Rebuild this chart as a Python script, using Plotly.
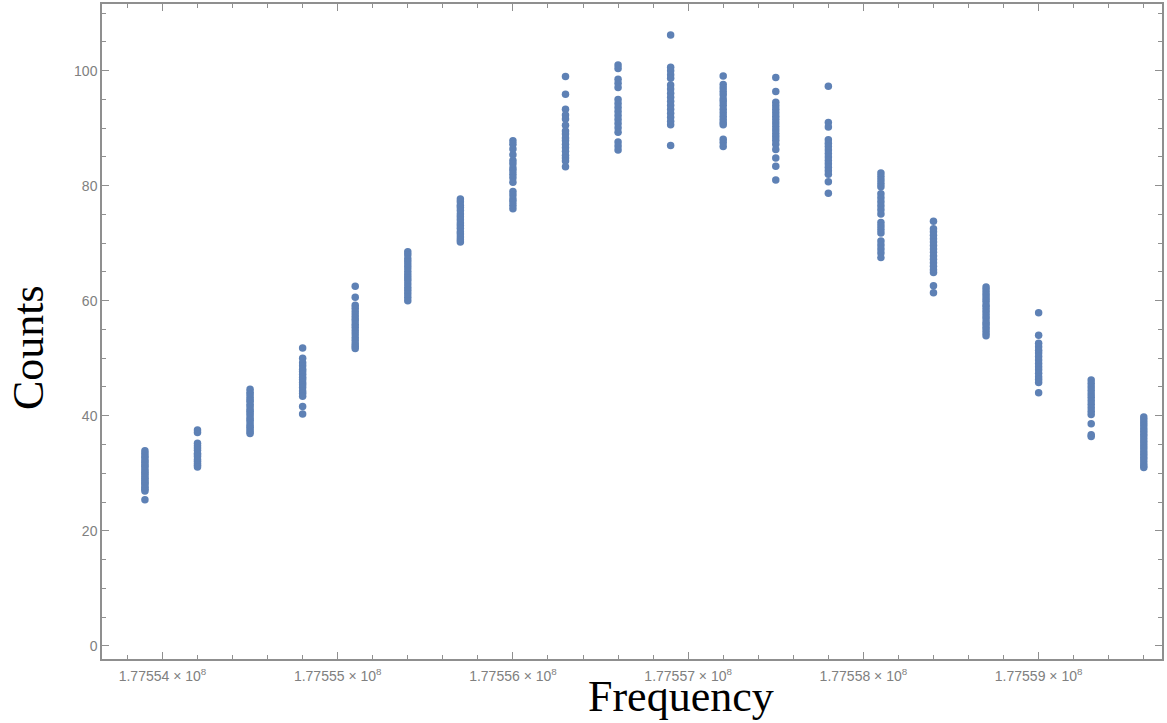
import plotly.graph_objects as go

# Measured counts at each probe frequency (Hz)
frequencies = [177553900, 177554200, 177554500, 177554800, 177555100,
               177555400, 177555700, 177556000, 177556300, 177556600,
               177556900, 177557200, 177557500, 177557800, 177558100,
               177558400, 177558700, 177559000, 177559300, 177559600]

counts_by_freq = [
    [33.9, 33.5, 33.0, 32.7, 32.2, 31.9, 31.5, 31.2, 30.8, 30.4, 30.1, 29.8,
     29.4, 29.1, 28.8, 28.4, 28.2, 27.8, 27.5, 27.2, 26.9, 25.4],
    [37.5, 37.1, 35.2, 34.8, 34.4, 34.0, 33.5, 33.2, 32.9, 32.4, 32.1, 31.7,
     31.4, 31.1],
    [44.6, 44.1, 43.7, 43.2, 42.8, 42.5, 42.0, 41.6, 41.1, 40.8, 40.4, 40.0,
     39.5, 39.2, 38.8, 38.3, 38.0, 37.6, 37.2, 36.9],
    [51.8, 50.0, 49.2, 48.7, 48.1, 47.7, 47.2, 46.7, 46.3, 45.8, 45.4, 44.9,
     44.3, 43.9, 43.4, 41.6, 40.3],
    [62.5, 60.6, 59.2, 58.7, 58.1, 57.5, 57.0, 56.5, 55.9, 55.4, 54.8, 54.2,
     53.6, 53.1, 52.5, 52.1, 51.7],
    [68.5, 68.0, 67.3, 66.8, 66.2, 65.7, 65.1, 64.5, 64.0, 63.5, 62.9, 62.3,
     61.8, 61.2, 60.6, 60.0],
    [77.7, 77.2, 76.6, 76.2, 75.7, 75.1, 74.6, 74.1, 73.5, 73.1, 72.6, 72.0,
     71.6, 71.1, 70.6, 70.2],
    [87.8, 87.2, 86.4, 85.4, 84.4, 83.8, 83.1, 82.6, 82.0, 81.4, 80.6, 79.0,
     78.4, 77.7, 77.2, 76.6, 76.0],
    [99.0, 95.9, 93.3, 92.3, 91.6, 90.5, 89.5, 89.0, 88.3, 87.8, 87.2, 86.6,
     86.0, 85.3, 84.8, 84.3, 83.3],
    [101.0, 100.4, 98.5, 97.8, 97.1, 95.0, 94.3, 93.6, 92.9, 92.2, 91.5, 90.8,
     90.1, 89.3, 87.6, 86.9, 86.2],
    [106.2, 100.6, 100.0, 99.3, 98.7, 97.5, 96.8, 96.1, 95.4, 94.7, 94.0, 93.3,
     92.6, 91.9, 91.2, 90.6, 87.0],
    [99.1, 97.6, 97.0, 96.4, 95.8, 95.1, 94.6, 94.0, 93.3, 92.7, 92.1, 91.5,
     91.0, 90.6, 88.1, 87.5, 86.8],
    [98.8, 96.4, 94.5, 93.9, 93.3, 92.7, 92.1, 91.5, 90.9, 90.3, 89.7, 89.1,
     88.5, 87.9, 87.2, 86.3, 84.8, 83.4, 81.0],
    [97.3, 91.0, 90.2, 88.0, 87.4, 86.8, 86.2, 85.6, 85.0, 84.4, 83.8, 83.2,
     82.6, 82.0, 80.7, 78.7],
    [82.2, 81.6, 81.0, 80.4, 79.8, 78.6, 77.9, 77.2, 76.5, 75.8, 75.1, 73.6,
     73.0, 72.4, 71.8, 70.4, 69.7, 69.0, 68.3, 67.5],
    [73.8, 72.5, 72.0, 71.4, 70.8, 70.2, 69.6, 69.0, 68.4, 67.8, 67.2, 66.6,
     66.0, 65.4, 64.9, 62.6, 61.4],
    [62.4, 61.9, 61.4, 60.9, 60.4, 59.9, 59.3, 58.9, 58.4, 57.9, 57.4, 56.9,
     56.3, 55.9, 55.4, 54.9, 54.4, 53.9],
    [57.9, 54.0, 52.6, 52.0, 51.4, 50.9, 50.3, 49.7, 49.1, 48.5, 48.0, 47.4,
     46.8, 46.3, 45.8, 44.0],
    [46.2, 45.6, 45.0, 44.4, 43.8, 43.2, 42.6, 42.0, 41.4, 40.8, 40.2, 38.6,
     36.7, 36.4],
    [39.8, 39.3, 38.8, 38.3, 37.8, 37.3, 36.8, 36.3, 35.8, 35.3, 34.8, 34.3,
     33.8, 33.3, 32.8, 32.3, 31.8, 31.3, 31.0],
]

x_tick_values = [177554000, 177555000, 177556000, 177557000, 177558000, 177559000]
x_tick_labels = ["1.77554 × 10<sup>8</sup>", "1.77555 × 10<sup>8</sup>",
                 "1.77556 × 10<sup>8</sup>", "1.77557 × 10<sup>8</sup>",
                 "1.77558 × 10<sup>8</sup>", "1.77559 × 10<sup>8</sup>"]

xs, ys = [], []
for f, vals in zip(frequencies, counts_by_freq):
    xs.extend([f] * len(vals))
    ys.extend(vals)

fig = go.Figure()
fig.add_trace(go.Scatter(
    x=xs, y=ys, mode="markers",
    marker=dict(size=7.5, color="#5E81B5", line=dict(width=0)),
    showlegend=False,
))

frame = "#8f8f8f"
x_tick_font = dict(family="Liberation Sans, Arial, sans-serif", size=14, color="#808080")
y_tick_font = dict(family="Liberation Sans, Arial, sans-serif", size=14, color="#808080")

fig.update_xaxes(
    range=[177553655, 177559704],
    tickmode="array", tickvals=x_tick_values, ticktext=x_tick_labels,
    ticks="inside", ticklen=7, tickwidth=1, tickcolor=frame,
    minor=dict(tickmode="linear", tick0=177554000, dtick=200,
               ticks="inside", ticklen=4, tickwidth=1, tickcolor=frame),
    showline=True, linecolor=frame, linewidth=1.5, mirror="ticks",
    showgrid=False, zeroline=False, tickfont=x_tick_font,
    ticklabelstandoff=3,
)
fig.update_yaxes(
    range=[-2.3, 111.6],
    tickmode="linear", tick0=0, dtick=20,
    ticks="inside", ticklen=7, tickwidth=1, tickcolor=frame,
    minor=dict(tickmode="linear", tick0=0, dtick=5,
               ticks="inside", ticklen=4, tickwidth=1, tickcolor=frame),
    showline=True, linecolor=frame, linewidth=1.5, mirror="ticks",
    showgrid=False, zeroline=False, tickfont=y_tick_font,
)

title_font = dict(family="Liberation Serif, Times New Roman, serif", size=44, color="black")
fig.add_annotation(text="Frequency", xref="paper", yref="paper",
                   x=0.546, y=-0.058, xanchor="center", yanchor="middle",
                   showarrow=False, font=title_font, borderpad=0)
fig.add_annotation(text="Counts", xref="paper", yref="paper",
                   x=-0.070, y=0.476, xanchor="center", yanchor="middle",
                   textangle=-90, showarrow=False, font=title_font, borderpad=0)

fig.update_layout(
    width=1167, height=723,
    margin=dict(l=102, r=5, t=2, b=64),
    paper_bgcolor="white", plot_bgcolor="white",
)

fig.write_html("out.html")
